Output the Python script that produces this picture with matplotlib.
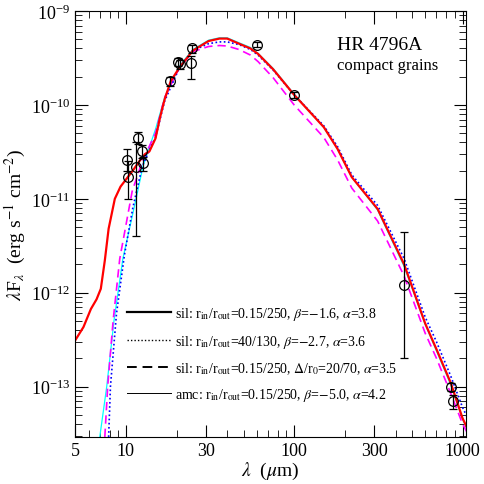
import matplotlib.pyplot as plt
import numpy as np
from matplotlib.lines import Line2D
from matplotlib.ticker import FixedLocator, FixedFormatter, LogLocator, NullFormatter

plt.rcParams['font.family'] = ['Liberation Serif', 'DejaVu Serif']
plt.rcParams['mathtext.fontset'] = 'stix'

# Photometry (lambda in micron, lambda*F_lambda, lower/upper error)
lam_obs = np.array([10.1, 10.3, 11.8, 11.5, 12.5, 12.6, 18.2, 20.3, 21.0, 24.8, 24.5, 60.0, 100.0, 450.0, 850.0, 880.0])
flux_obs = np.array([2.6e-11, 1.7e-11, 4.4e-11, 2.2e-11, 3.2e-11, 2.4e-11, 1.8e-10, 2.9e-10, 2.7e-10,
                     4.0e-10, 2.8e-10, 4.4e-10, 1.28e-10, 1.2e-12, 1.0e-13, 7.0e-14])
err_lo = np.array([0.6e-11, 0.7e-11, 0.6e-11, 1.8e-11, 0.5e-11, 0.4e-11, 0.2e-10, 0.3e-10, 0.3e-10,
                   0.4e-10, 0.9e-10, 0.3e-10, 0.1e-10, 1.0e-12, 0.1e-13, 1.2e-14])
err_hi = np.array([0.8e-11, 0.8e-11, 0.7e-11, 1.8e-11, 0.5e-11, 0.4e-11, 0.2e-10, 0.3e-10, 0.3e-10,
                   0.4e-10, 0.5e-10, 0.3e-10, 0.1e-10, 3.2e-12, 0.1e-13, 1.2e-14])

# Model curves
lam_red = [5, 5.6, 6.2, 6.7, 7.1, 7.5, 7.9, 8.6, 9.3, 10, 11, 12, 13, 13.8, 15, 16, 17, 18.5, 20.8, 25, 31, 36, 40, 47,
           55, 61, 75, 100, 150, 181, 220, 313, 450, 600, 700, 850, 1000, 1100]
sed_red = [3.1e-13, 4.3e-13, 6.7e-13, 8.5e-13, 1.1e-12, 2.2e-12, 4.8e-12, 1.0e-11, 1.35e-11, 1.6e-11, 2.0e-11, 2.5e-11,
           3.0e-11, 3.2e-11, 4.4e-11, 7.5e-11, 1.15e-10, 1.8e-10, 2.5e-10, 3.8e-10, 4.8e-10, 5.1e-10, 5.1e-10, 4.5e-10,
           4.0e-10, 3.5e-10, 2.4e-10, 1.28e-10, 5.8e-11, 3.4e-11, 1.7e-11, 7.8e-12, 2.0e-12, 4.7e-13, 2.5e-13, 1.1e-13,
           4.6e-14, 3.2e-14]
lam_cyan = [7.0, 7.7, 8.5, 9.6, 11.5, 12.7, 15, 17, 20.8, 25, 31, 36, 40, 47, 55, 61, 75, 100, 150, 181, 220, 313,
            450, 600, 700, 850, 1000, 1100]
sed_cyan = [2.9e-14, 1e-13, 5e-13, 2.3e-12, 1e-11, 2.3e-11, 5.5e-11, 1.2e-10, 2.6e-10, 3.9e-10, 4.9e-10, 5.2e-10,
            5.2e-10, 4.6e-10, 4.1e-10, 3.55e-10, 2.45e-10, 1.3e-10, 5.8e-11, 3.4e-11, 1.7e-11, 7.6e-12, 1.9e-12,
            4.6e-13, 2.4e-13, 1.05e-13, 4.5e-14, 3.1e-14]
lam_blue = [7.9, 8.1, 8.8, 9.8, 11, 12.5, 14, 15, 17, 20.8, 25, 31, 36, 40, 47, 55, 61, 75, 100, 150, 181, 220, 313,
            450, 600, 700, 850, 1000, 1100]
sed_blue = [2.9e-14, 1e-13, 6e-13, 2.5e-12, 8e-12, 2.2e-11, 3.5e-11, 4.5e-11, 1.1e-10, 2.5e-10, 3.8e-10, 4.5e-10,
            4.7e-10, 4.7e-10, 4.4e-10, 3.9e-10, 3.4e-10, 2.35e-10, 1.28e-10, 6e-11, 3.6e-11, 1.8e-11, 8.5e-12,
            2.3e-12, 5.5e-13, 3e-13, 1.3e-13, 6e-14, 4.2e-14]
lam_mag = [7.5, 7.8, 8.4, 9.2, 10.9, 12.5, 15, 17, 20.8, 25, 31, 36, 40, 47, 55, 61, 75, 100, 150, 181, 220, 313,
           450, 600, 700, 850, 1000, 1100]
sed_mag = [2.9e-14, 1e-13, 5e-13, 2.3e-12, 1.2e-11, 2.5e-11, 5e-11, 1.2e-10, 2.5e-10, 3.7e-10, 4.2e-10, 4.3e-10,
           4.25e-10, 3.9e-10, 3.4e-10, 2.9e-10, 1.95e-10, 1.0e-10, 4.5e-11, 2.6e-11, 1.3e-11, 5.8e-12, 1.5e-12,
           3.7e-13, 2e-13, 8.5e-14, 4e-14, 2.9e-14]

legend_txt = [r"sil: r$_{\rm in}$/r$_{\rm out}$=0.15/250, $\beta$=$-$1.6, $\alpha$=3.8",
              r"sil: r$_{\rm in}$/r$_{\rm out}$=40/130, $\beta$=$-$2.7, $\alpha$=3.6",
              r"sil: r$_{\rm in}$/r$_{\rm out}$=0.15/250, $\Delta$/r$_0$=20/70, $\alpha$=3.5",
              r"amc: r$_{\rm in}$/r$_{\rm out}$=0.15/250, $\beta$=$-$5.0, $\alpha$=4.2"]

fig = plt.figure(figsize=(4.85, 4.85), dpi=100)
ax = fig.add_axes([0.155, 0.097, 0.806, 0.878])

ax.plot(lam_cyan, sed_cyan, color='cyan', lw=0.9)
ax.plot(lam_mag, sed_mag, color='magenta', lw=1.2, ls=(0, (5, 3)))
ax.plot(lam_blue, sed_blue, color='blue', lw=1.2, ls=(0, (1, 1.5)))
ax.plot(lam_red, sed_red, color='red', lw=1.6)
ax.errorbar(lam_obs, flux_obs, yerr=[err_lo, err_hi], fmt='o', mfc='none', mec='black', ms=7,
            ecolor='black', elinewidth=0.9, capsize=3, mew=0.9)

ax.set_xscale('log')
ax.set_yscale('log')
ax.set_xlim(5, 1050)
ax.set_ylim(2.9e-14, 1e-9)

xt = [5, 10, 30, 100, 300, 1000]
ax.xaxis.set_major_locator(FixedLocator(xt))
ax.xaxis.set_major_formatter(FixedFormatter([str(v) for v in xt]))
ax.xaxis.set_minor_locator(LogLocator(base=10, subs=np.arange(2, 10)))
ax.xaxis.set_minor_formatter(NullFormatter())
ax.yaxis.set_minor_locator(LogLocator(base=10, subs=np.arange(2, 10)))
ax.tick_params(which='both', direction='in', top=True, right=True, labelsize=13)
ax.tick_params(which='major', length=9)
ax.tick_params(which='minor', length=5)

ax.set_xlabel(r"$\lambda$  ($\mu$m)", fontsize=14, labelpad=1)
ax.set_ylabel(r"$\lambda$F$_\lambda$  (erg s$^{-1}$ cm$^{-2}$)", fontsize=14, labelpad=2)

ax.text(0.78, 0.91, "HR 4796A", transform=ax.transAxes, ha='center', fontsize=14)
ax.text(0.80, 0.865, "compact grains", transform=ax.transAxes, ha='center', fontsize=12)

handles = [Line2D([], [], color='black', lw=1.6),
           Line2D([], [], color='black', lw=1.0, ls=(0, (1, 1.5))),
           Line2D([], [], color='black', lw=1.4, ls=(0, (5, 3))),
           Line2D([], [], color='black', lw=0.7)]
ax.legend(handles, legend_txt, loc='lower left', bbox_to_anchor=(0.1, 0.05), frameon=False,
          fontsize=10, handlelength=3.2, labelspacing=0.75, handletextpad=0.3)

fig.savefig('out.png', dpi=100)
